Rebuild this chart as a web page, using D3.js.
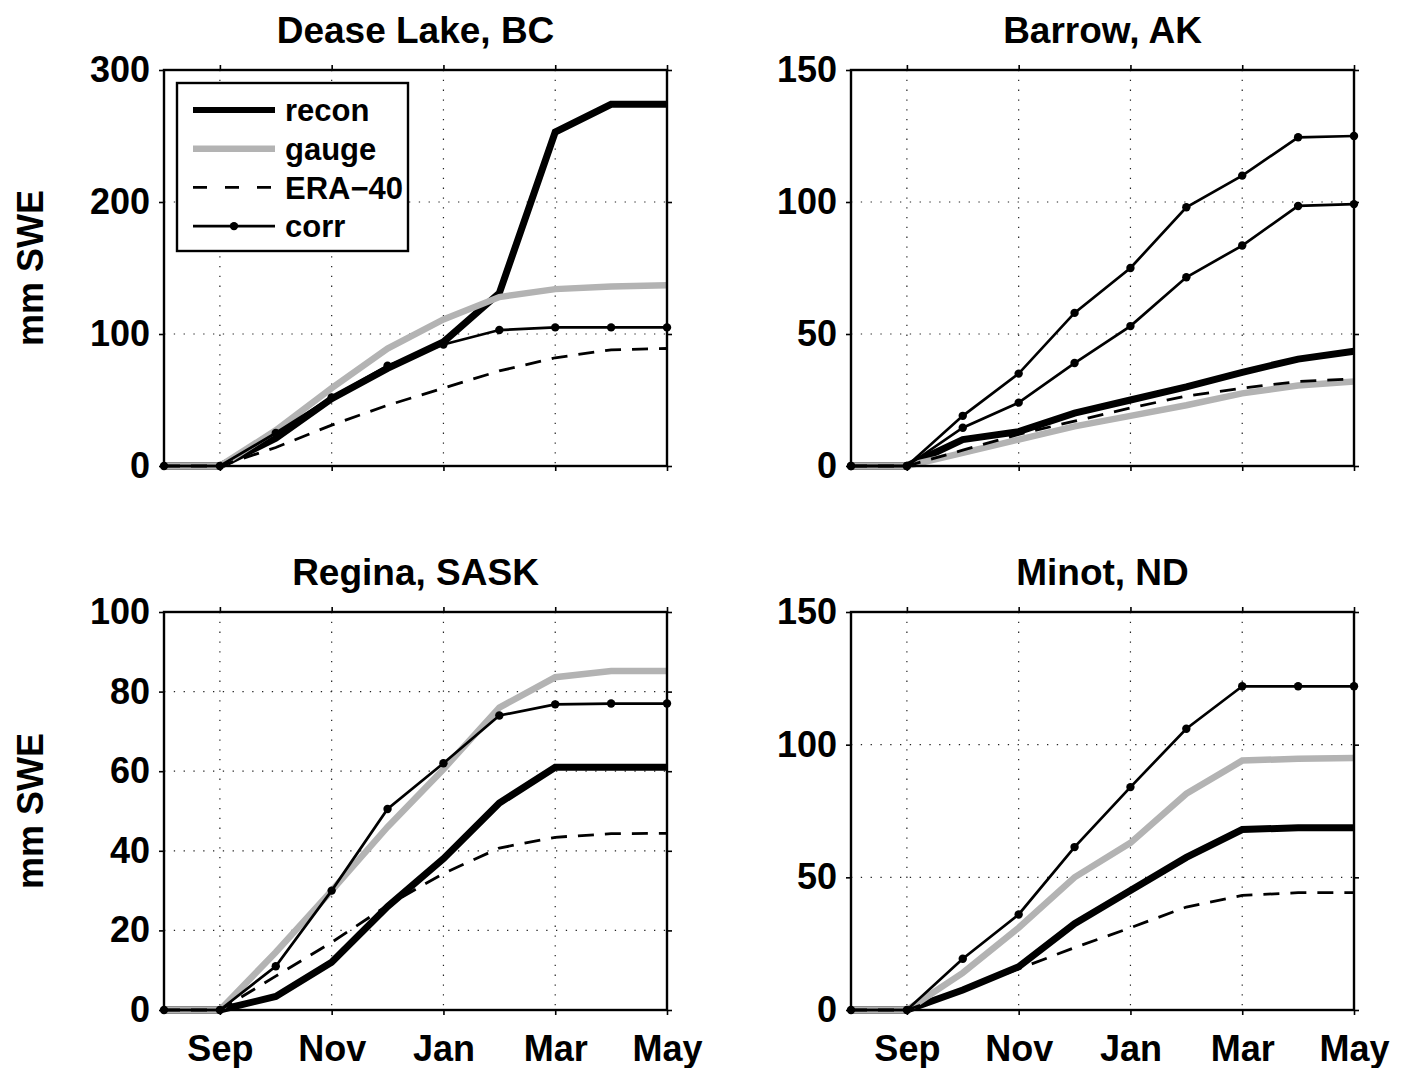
<!DOCTYPE html>
<html>
<head>
<meta charset="utf-8">
<script src="https://cdn.jsdelivr.net/npm/d3@7"></script>
<style>
  body { margin: 0; background: #fff; }
  svg { display: block; }
  text { font-family: "Liberation Sans", Arial, Helvetica, sans-serif; font-weight: bold; fill: #000; }
</style>
</head>
<body>
<svg id="chart" width="1403" height="1068"></svg>
<script>
// Months from August to May (cumulative snow water equivalent, mm)
const months = ["Aug", "Sep", "Oct", "Nov", "Dec", "Jan", "Feb", "Mar", "Apr", "May"];
const monthTicks = ["Sep", "Nov", "Jan", "Mar", "May"];
const seriesNames = ["recon", "gauge", "ERA\u221240", "corr"];

const stationNames = ["Dease Lake, BC", "Barrow, AK", "Regina, SASK", "Minot, ND"];
const yMaxima = [300, 150, 100, 150];
const yTickValues = [
  [0, 100, 200, 300],
  [0, 50, 100, 150],
  [0, 20, 40, 60, 80, 100],
  [0, 50, 100, 150]
];

// Dease Lake, BC
const deaseRecon = [0, 0, 21, 51, 74, 94, 131, 253, 274, 274];
const deaseGauge = [0, 0, 27, 59, 89, 111, 128, 134, 136, 137];
const deaseEra   = [0, 0, 14, 31, 46, 59, 72, 82, 88, 89];
const deaseCorr  = [0, 0, 25, 52, 76, 92, 103, 105, 105, 105];

// Barrow, AK (two corrected series)
const barrowRecon = [0, 0, 10, 13, 20, 25, 30, 35.5, 40.5, 43.5];
const barrowGauge = [0, 0, 5, 10, 15, 19, 23, 27.5, 30.5, 32];
const barrowEra   = [0, 0, 6, 12, 17, 22, 26.5, 29.5, 32, 33];
const barrowCorrA = [0, 0, 19, 35, 58, 75, 98, 110, 124.5, 125];
const barrowCorrB = [0, 0, 14.5, 24, 39, 53, 71.5, 83.5, 98.5, 99.2];

// Regina, SASK
const reginaRecon = [0, 0, 3.4, 12, 26, 38, 52, 61, 61, 61];
const reginaGauge = [0, 0, 14.5, 30, 46, 60.5, 76, 83.6, 85.2, 85.2];
const reginaEra   = [0, 0, 8.5, 17, 26.3, 34.3, 40.7, 43.4, 44.3, 44.4];
const reginaCorr  = [0, 0, 11, 30, 50.5, 62, 74, 76.8, 77, 77];

// Minot, ND
const minotRecon = [0, 0, 7.5, 16.3, 32.5, 45, 57.5, 68, 68.7, 68.7];
const minotGauge = [0, 0, 14, 31, 50, 63, 81.5, 94, 94.7, 95];
const minotEra   = [0, 0, 7.5, 15.5, 23.5, 31, 38.8, 43.2, 44.2, 44.2];
const minotCorr  = [0, 0, 19.3, 36, 61.4, 84, 106, 122, 122, 122];

const panelData = [
  { recon: deaseRecon, gauge: deaseGauge, era: deaseEra, corr: [deaseCorr] },
  { recon: barrowRecon, gauge: barrowGauge, era: barrowEra, corr: [barrowCorrA, barrowCorrB] },
  { recon: reginaRecon, gauge: reginaGauge, era: reginaEra, corr: [reginaCorr] },
  { recon: minotRecon, gauge: minotGauge, era: minotEra, corr: [minotCorr] }
];

// Layout of the 2x2 grid of axes
const plotW = 503;
const colX = [164, 851];
const rowY = [70, 612];
const rowH = [396, 398];

const svg = d3.select("#chart");

const styles = {
  recon: { stroke: "#000", width: 7, dash: null },
  gauge: { stroke: "#b3b3b3", width: 6.5, dash: null },
  era:   { stroke: "#000", width: 2.8, dash: "16,11" },
  corr:  { stroke: "#000", width: 2.7, dash: null }
};
const dotR = 4.2;

panelData.forEach((d, i) => {
  const col = i % 2, row = Math.floor(i / 2);
  const left = colX[col], top = rowY[row], h = rowH[row];
  const g = svg.append("g").attr("transform", `translate(${left},${top})`);

  const x = d3.scalePoint().domain(months).range([0, plotW]);
  const y = d3.scaleLinear().domain([0, yMaxima[i]]).range([h, 0]);

  // dotted grid
  const grid = g.append("g").attr("stroke", "#222").attr("stroke-width", 1.2)
    .attr("stroke-dasharray", "1.3,8.5");
  monthTicks.filter(m => m !== months[months.length - 1]).forEach(m => {
    grid.append("line").attr("x1", x(m)).attr("x2", x(m)).attr("y1", 0).attr("y2", h);
  });
  yTickValues[i].filter(v => v > 0 && v < yMaxima[i]).forEach(v => {
    grid.append("line").attr("x1", 0).attr("x2", plotW).attr("y1", y(v)).attr("y2", y(v));
  });

  // series lines
  const line = d3.line().x((v, k) => x(months[k])).y(v => y(v));
  const drawLine = (vals, st) => {
    const p = g.append("path").datum(vals).attr("d", line)
      .attr("fill", "none").attr("stroke", st.stroke).attr("stroke-width", st.width)
      .attr("stroke-linejoin", "miter").attr("stroke-linecap", "butt");
    if (st.dash) p.attr("stroke-dasharray", st.dash);
  };
  drawLine(d.recon, styles.recon);
  drawLine(d.gauge, styles.gauge);
  drawLine(d.era, styles.era);
  d.corr.forEach(c => {
    drawLine(c, styles.corr);
    g.append("g").selectAll("circle").data(c).join("circle")
      .attr("cx", (v, k) => x(months[k])).attr("cy", v => y(v))
      .attr("r", dotR).attr("fill", "#000");
  });

  // axes with outward ticks on all four sides
  const fontSize = 36;
  const yl = g.append("g").call(d3.axisLeft(y).tickValues(yTickValues[i]).tickSize(5).tickPadding(9));
  yl.selectAll("text").attr("font-size", fontSize);
  g.append("g").attr("transform", `translate(${plotW},0)`)
    .call(d3.axisRight(y).tickValues(yTickValues[i]).tickSize(5).tickFormat(""));
  g.append("g").call(d3.axisTop(x).tickValues(monthTicks).tickSize(5).tickFormat(""));
  const xb = g.append("g").attr("transform", `translate(0,${h})`)
    .call(d3.axisBottom(x).tickValues(monthTicks).tickSize(5));
  if (row === 1) {
    xb.selectAll("text").attr("font-size", fontSize).attr("y", 51).attr("dy", 0);
  } else {
    xb.selectAll("text").remove();
  }
  g.selectAll(".domain").remove();
  g.selectAll(".tick line").attr("stroke", "#000").attr("stroke-width", 1.6);

  // axes box
  g.append("rect").attr("x", 0).attr("y", 0).attr("width", plotW).attr("height", h)
    .attr("fill", "none").attr("stroke", "#000").attr("stroke-width", 2.4);

  // title
  g.append("text").attr("x", plotW / 2).attr("y", -27).attr("text-anchor", "middle")
    .attr("font-size", 37).text(stationNames[i]);

  // y label
  if (col === 0) {
    g.append("text").attr("transform", `translate(${30 - left},${h / 2}) rotate(-90)`)
      .attr("text-anchor", "middle").attr("dy", "0.35em").attr("font-size", fontSize)
      .text("mm SWE");
  }

  // legend (first panel only)
  if (i === 0) {
    const lg = g.append("g").attr("transform", "translate(13,13)");
    lg.append("rect").attr("width", 231).attr("height", 168)
      .attr("fill", "#fff").attr("stroke", "#000").attr("stroke-width", 2.4);
    const keys = ["recon", "gauge", "era", "corr"];
    keys.forEach((k, j) => {
      const yy = 27 + j * 38.7;
      const st = styles[k];
      const ln = lg.append("line").attr("x1", 16).attr("x2", 98).attr("y1", yy).attr("y2", yy)
        .attr("stroke", st.stroke).attr("stroke-width", k === "recon" ? 6 : st.width);
      if (st.dash) ln.attr("stroke-dasharray", "14,18");
      if (k === "corr") lg.append("circle").attr("cx", 57).attr("cy", yy).attr("r", dotR).attr("fill", "#000");
      lg.append("text").attr("x", 108).attr("y", yy).attr("dy", "0.36em")
        .attr("font-size", 31).text(seriesNames[j]);
    });
  }
});
</script>
</body>
</html>
